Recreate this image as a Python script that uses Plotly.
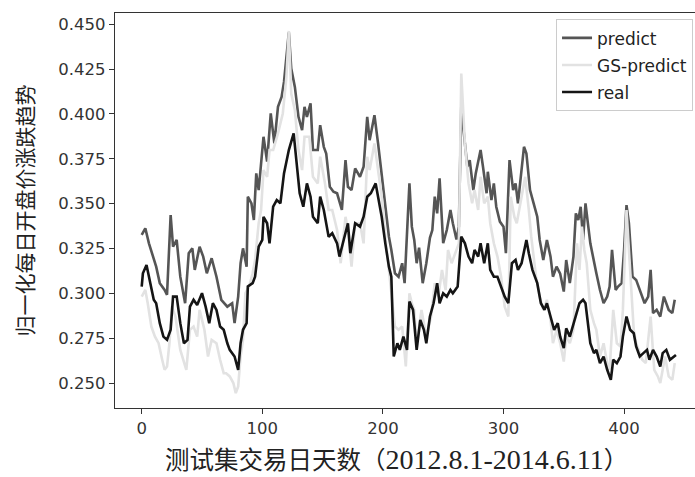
import plotly.graph_objects as go

# Test-set trading days and normalized daily opening-price trend
pred_day = [0, 3, 6, 10, 12, 15, 19, 21, 24, 26, 29, 32, 36, 39, 42, 44, 48, 51, 54, 58,
            62, 66, 71, 75, 77, 80, 82, 84, 87, 88, 91, 93, 95, 97, 101, 104, 107, 110, 113, 116,
            118, 122, 124, 127, 130, 133, 135, 137, 140, 142, 146, 148, 151, 153, 156, 159, 162, 166, 169, 171,
            174, 177, 181, 184, 187, 189, 193, 196, 199, 202, 205, 207, 210, 213, 216, 218, 222, 224, 226, 228,
            230, 233, 236, 239, 241, 243, 245, 247, 250, 253, 256, 258, 261, 263, 265, 268, 270, 272, 275, 277,
            281, 283, 286, 287, 290, 292, 294, 297, 300, 302, 305, 308, 310, 312, 315, 317, 319, 322, 325, 328,
            330, 333, 336, 339, 341, 344, 347, 350, 352, 355, 358, 360, 362, 364, 366, 368, 372, 375, 377, 380,
            383, 386, 388, 390, 393, 395, 398, 400, 402, 404, 407, 410, 413, 417, 420, 422, 424, 427, 430, 433,
            437, 440, 442]
pred_val = [0.3326, 0.3363, 0.3279, 0.3186, 0.3149, 0.3057, 0.3019, 0.2992, 0.3437, 0.3260, 0.3298, 0.3093, 0.2945, 0.3224, 0.3251, 0.3131, 0.3260, 0.3205, 0.3112, 0.3196,
            0.3093, 0.2964, 0.2926, 0.2945, 0.2834, 0.2982, 0.3168, 0.3251, 0.3149, 0.3539, 0.3502, 0.3409, 0.3669, 0.3576, 0.3873, 0.3735, 0.4003, 0.3836, 0.4040, 0.4095,
            0.4179, 0.4455, 0.4253, 0.4151, 0.3984, 0.3910, 0.4040, 0.3984, 0.4059, 0.3799, 0.3799, 0.3938, 0.3817, 0.3780, 0.3594, 0.3567, 0.3558, 0.3465, 0.3743, 0.3594,
            0.3576, 0.3697, 0.3650, 0.3706, 0.3984, 0.3854, 0.3993, 0.3836, 0.3650, 0.3465, 0.3316, 0.3242, 0.3112, 0.3093, 0.3168, 0.3057, 0.3613, 0.3372, 0.3298, 0.3168,
            0.3255, 0.3057, 0.3168, 0.3310, 0.3353, 0.3539, 0.3446, 0.3641, 0.3280, 0.3353, 0.3465, 0.3391, 0.3300, 0.3372, 0.4040, 0.3836, 0.3706, 0.3743, 0.3576, 0.3669,
            0.3799, 0.3706, 0.3558, 0.3678, 0.3520, 0.3613, 0.3483, 0.3400, 0.3372, 0.3224, 0.3743, 0.3576, 0.3613, 0.3502, 0.3706, 0.3817, 0.3780, 0.3576, 0.3502, 0.3427,
            0.3298, 0.3186, 0.3298, 0.3205, 0.3093, 0.3149, 0.3110, 0.3010, 0.3186, 0.3057, 0.3205, 0.3446, 0.3409, 0.3483, 0.3298, 0.3502, 0.3279, 0.3168, 0.3112, 0.3019,
            0.2945, 0.2982, 0.3038, 0.3242, 0.3019, 0.3038, 0.3057, 0.3242, 0.3492, 0.3391, 0.3093, 0.3075, 0.3019, 0.2945, 0.2982, 0.3131, 0.2890, 0.2908, 0.2871, 0.2982,
            0.2908, 0.2890, 0.2964]

gs_day = [0, 3, 5, 8, 11, 14, 17, 19, 21, 23, 25, 28, 32, 35, 37, 40, 43, 46, 48, 52,
          55, 58, 62, 65, 68, 70, 73, 76, 78, 80, 82, 84, 86, 89, 92, 94, 97, 99, 101, 104,
          106, 109, 113, 117, 120, 122, 124, 127, 130, 133, 135, 139, 142, 146, 148, 152, 155, 158, 162, 165,
          169, 171, 174, 177, 181, 184, 187, 189, 193, 196, 199, 202, 205, 207, 210, 213, 216, 219, 222, 224,
          226, 228, 232, 236, 240, 243, 246, 249, 252, 254, 257, 260, 263, 265, 268, 271, 274, 276, 279, 281,
          284, 287, 289, 292, 295, 298, 301, 304, 306, 309, 311, 315, 318, 321, 323, 327, 330, 333, 336, 339,
          341, 344, 347, 350, 352, 355, 358, 361, 363, 365, 367, 369, 372, 375, 377, 380, 383, 386, 388, 391,
          394, 397, 399, 402, 405, 408, 410, 415, 418, 422, 425, 428, 430, 434, 437, 440, 442]
gs_val = [0.2982, 0.3019, 0.2945, 0.2815, 0.2759, 0.2722, 0.2630, 0.2574, 0.2592, 0.2722, 0.2926, 0.2871, 0.2685, 0.2611, 0.2574, 0.2797, 0.2815, 0.2759, 0.2908, 0.2797,
          0.2648, 0.2741, 0.2722, 0.2630, 0.2555, 0.2555, 0.2537, 0.2500, 0.2444, 0.2481, 0.2648, 0.2741, 0.3001, 0.3038, 0.3112, 0.3186, 0.3391, 0.3465, 0.3687, 0.3650,
          0.3799, 0.3799, 0.3892, 0.4003, 0.4207, 0.4463, 0.4114, 0.4021, 0.3799, 0.3687, 0.3873, 0.3873, 0.3650, 0.3613, 0.3762, 0.3613, 0.3465, 0.3465, 0.3353, 0.3168,
          0.3427, 0.3353, 0.3149, 0.3391, 0.3391, 0.3279, 0.3762, 0.3687, 0.3836, 0.3687, 0.3539, 0.3316, 0.3131, 0.2982, 0.2815, 0.2797, 0.2815, 0.2593, 0.3001, 0.2945,
          0.2908, 0.2722, 0.2908, 0.2759, 0.2871, 0.3057, 0.2982, 0.3131, 0.3019, 0.3242, 0.3168, 0.3224, 0.3279, 0.4226, 0.3836, 0.3613, 0.3502, 0.3576, 0.3465, 0.3650,
          0.3502, 0.3539, 0.3391, 0.3279, 0.3205, 0.3093, 0.2926, 0.2871, 0.3539, 0.3427, 0.3391, 0.3539, 0.3650, 0.3465, 0.3316, 0.3093, 0.2982, 0.2908, 0.2964, 0.2852,
          0.2722, 0.2797, 0.2722, 0.2620, 0.2759, 0.2722, 0.2797, 0.3279, 0.3131, 0.3372, 0.3242, 0.3168, 0.2908, 0.2834, 0.2797, 0.2648, 0.2722, 0.2611, 0.2574, 0.2908,
          0.2722, 0.2704, 0.2908, 0.3465, 0.3093, 0.2797, 0.2722, 0.2630, 0.2611, 0.2871, 0.2574, 0.2537, 0.2500, 0.2648, 0.2537, 0.2518, 0.2611]

real_day = [0, 1, 4, 7, 10, 12, 15, 18, 21, 24, 26, 29, 32, 35, 38, 40, 43, 46, 50, 53,
            56, 59, 62, 65, 68, 71, 73, 77, 80, 82, 84, 87, 88, 92, 94, 97, 100, 101, 104, 106,
            109, 112, 115, 118, 122, 126, 129, 131, 134, 137, 140, 142, 146, 148, 151, 155, 158, 162, 164, 167,
            171, 173, 177, 181, 184, 187, 190, 194, 196, 199, 202, 205, 207, 209, 212, 214, 217, 220, 222, 225,
            228, 231, 234, 236, 239, 242, 245, 247, 250, 253, 256, 258, 262, 265, 268, 271, 274, 276, 279, 281,
            284, 287, 289, 292, 295, 298, 301, 304, 307, 310, 312, 315, 319, 321, 324, 328, 331, 334, 336, 339,
            342, 345, 347, 350, 352, 355, 358, 361, 363, 366, 368, 372, 375, 377, 380, 383, 386, 389, 391, 394,
            397, 399, 402, 405, 408, 410, 413, 416, 419, 421, 424, 427, 430, 432, 435, 438, 441, 443]
real_val = [0.3038, 0.3112, 0.3158, 0.3057, 0.2964, 0.2945, 0.2834, 0.2759, 0.2741, 0.2797, 0.2982, 0.2982, 0.2834, 0.2722, 0.2741, 0.2926, 0.2964, 0.2935, 0.3001, 0.2926,
            0.2834, 0.2945, 0.2908, 0.2815, 0.2797, 0.2722, 0.2685, 0.2648, 0.2574, 0.2722, 0.2797, 0.2834, 0.3038, 0.3057, 0.3093, 0.3260, 0.3298, 0.3427, 0.3391, 0.3279,
            0.3483, 0.3520, 0.3502, 0.3669, 0.3799, 0.3892, 0.3706, 0.3558, 0.3483, 0.3613, 0.3539, 0.3427, 0.3391, 0.3539, 0.3465, 0.3316, 0.3335, 0.3279, 0.3205, 0.3279,
            0.3391, 0.3224, 0.3391, 0.3372, 0.3427, 0.3539, 0.3558, 0.3613, 0.3539, 0.3427, 0.3279, 0.3149, 0.3093, 0.2648, 0.2722, 0.2685, 0.2759, 0.2685, 0.2955, 0.2908,
            0.2685, 0.2852, 0.2797, 0.2722, 0.2871, 0.2945, 0.3057, 0.2945, 0.3001, 0.2982, 0.3019, 0.3001, 0.3038, 0.3316, 0.3279, 0.3205, 0.3168, 0.3242, 0.3205, 0.3279,
            0.3168, 0.3279, 0.3131, 0.3093, 0.3093, 0.3038, 0.2982, 0.2945, 0.3168, 0.3186, 0.3131, 0.3168, 0.3298, 0.3224, 0.3131, 0.3057, 0.2945, 0.2908, 0.2945, 0.2871,
            0.2797, 0.2834, 0.2759, 0.2695, 0.2805, 0.2759, 0.2834, 0.2908, 0.2945, 0.2964, 0.2945, 0.2722, 0.2667, 0.2685, 0.2611, 0.2648, 0.2574, 0.2518, 0.2630, 0.2611,
            0.2648, 0.2759, 0.2871, 0.2797, 0.2778, 0.2704, 0.2648, 0.2667, 0.2685, 0.2630, 0.2685, 0.2648, 0.2592, 0.2667, 0.2685, 0.2630, 0.2648, 0.2657]

y_ticks = [0.250, 0.275, 0.300, 0.325, 0.350, 0.375, 0.400, 0.425, 0.450]
x_ticks = [0, 100, 200, 300, 400]

TICK_FONT = dict(family="DejaVu Sans", size=16.5, color="#333333")
CJK_FONT = "Noto Sans CJK SC"
TITLE_FONT = "Liberation Serif, Noto Sans CJK SC"

fig = go.Figure()
series = [
    ("predict", pred_day, pred_val, "#555555"),
    ("GS-predict", gs_day, gs_val, "#e2e2e2"),
    ("real", real_day, real_val, "#151515"),
]
for name, xs, ys, color in series:
    fig.add_trace(go.Scatter(
        x=xs, y=ys, mode="lines", name=name, legendgroup=name,
        line=dict(color=color, width=2.6, shape="linear"),
    ))

fig.update_layout(
    width=695, height=477,
    margin=dict(l=115, r=0, t=13, b=69, pad=0),
    paper_bgcolor="white", plot_bgcolor="white",
    showlegend=True,
    legend=dict(
        x=0.9966, xanchor="right", y=0.984, yanchor="top",
        bgcolor="rgba(255,255,255,0.9)", bordercolor="#cccccc", borderwidth=1,
        font=dict(family="DejaVu Sans", size=17, color="#222222"),
        tracegroupgap=2,
    ),
    xaxis=dict(
        range=[-22.14, 458.8], tickvals=x_ticks, ticktext=[str(v) for v in x_ticks],
        showgrid=False, zeroline=False, showline=True, linecolor="#333333", linewidth=1.3,
        mirror=True, ticks="outside", ticklen=5, tickcolor="#333333", tickwidth=1.2,
        tickfont=TICK_FONT, automargin=False,
    ),
    yaxis=dict(
        range=[0.2361, 0.4563], tickvals=y_ticks, ticktext=[f"{v:.3f}" for v in y_ticks],
        showgrid=False, zeroline=False, showline=True, linecolor="#333333", linewidth=1.3,
        ticks="outside", ticklen=5, tickcolor="#333333", tickwidth=1.2,
        tickfont=TICK_FONT, automargin=False,
    ),
    annotations=[
        dict(text="测试集交易日天数（<span style='font-size:28px'>2012.8.1-2014.6.11</span>）",
             xref="paper", yref="paper",
             x=0.4845, y=-0.131, xanchor="center", yanchor="middle", showarrow=False,
             font=dict(family=TITLE_FONT, size=24.5, color="#222222")),
        dict(text="归一化每日开盘价涨跌趋势", xref="paper", yref="paper",
             x=-0.1586, y=0.5, xanchor="center", yanchor="middle", showarrow=False,
             textangle=-90, font=dict(family=CJK_FONT, size=21, color="#222222")),
    ],
)

fig.write_html("out.html")
